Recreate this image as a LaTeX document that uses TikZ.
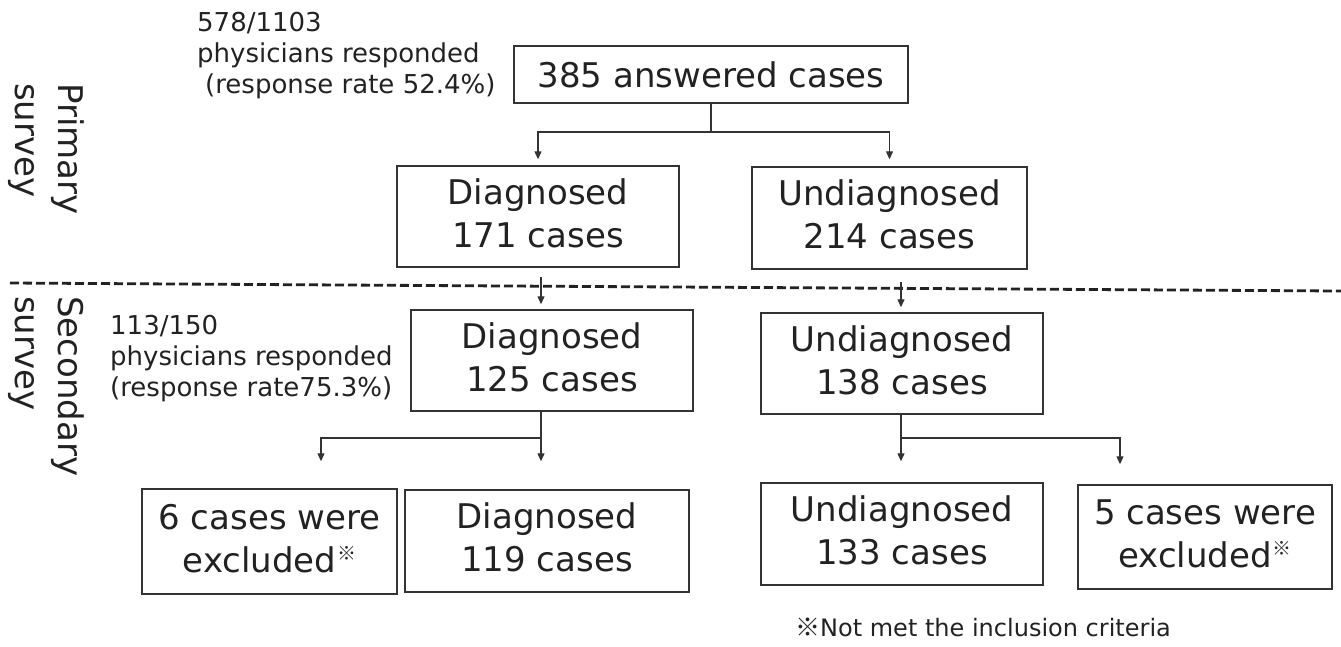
\documentclass[tikz,border=0pt]{standalone}
\usepackage{fontspec}
\setmainfont{DejaVu Sans}
\newfontfamily\cjk{Noto Sans CJK JP}
\usetikzlibrary{arrows.meta,calc}
\definecolor{ink}{HTML}{222222}
\definecolor{edge}{HTML}{333333}
\newcommand{\supmark}{\kern1pt\raisebox{12pt}{\fontsize{19}{19}\selectfont\cjk ※}}
\begin{document}
\begin{tikzpicture}[x=1pt,y=-1pt,
  box/.style={draw=edge, line width=1.4pt, text=ink, align=center, inner sep=0pt,
    font=\fontsize{34}{43}\selectfont},
  twoline/.style={box, execute at end node={\rule[-7pt]{0pt}{7pt}}},
  note/.style={anchor=base west, text=ink, inner sep=0pt, font=\fontsize{26}{31}\selectfont},
  side/.style={anchor=base west, rotate=-90, text=ink, inner sep=0pt, font=\fontsize{34}{43}\selectfont},
  link/.style={draw=edge, line width=1.2pt},
  arr/.style={link, -{Triangle[length=8pt,width=7pt]}},
  divider/.style={draw=ink, line width=2.8pt, dash pattern=on 9pt off 4pt},
]
\useasboundingbox (0,0) rectangle (1341,646);

% section divider
\coordinate (dl) at (10,283);
\coordinate (dr) at (1341,291);
\draw[divider] (dl) -- (dr);

% side labels
\node[side] (prim1) at (58,83) {Primary};
\node[side] (prim2) at (15,83) {survey};
\node[side] (sec1) at (58,296) {Secondary};
\node[side] (sec2) at (15,296) {survey};

% notes
\node[note] (n1a) at (197,31) {578/1103};
\node[note] (n1b) at (197,62) {physicians responded};
\node[note] (n1c) at (205,93) {(response rate 52.4\%)};
\node[note] (n2a) at (110,334) {113/150};
\node[note] (n2b) at (110,365) {physicians responded};
\node[note] (n2c) at (110,396) {(response rate75.3\%)};

% boxes
\node[box, minimum width=394pt, minimum height=57pt] (top) at (711,74.5) {385 answered cases};
\node[twoline, minimum width=282pt, minimum height=101pt] (D171) at (538,216.5) {Diagnosed\\171 cases};
\node[twoline, minimum width=275pt, minimum height=102pt] (U214) at (889.5,218) {Undiagnosed\\214 cases};
\node[twoline, minimum width=282pt, minimum height=101pt] (D125) at (552,360.5) {Diagnosed\\125 cases};
\node[twoline, minimum width=282pt, minimum height=101pt] (U138) at (902,363.5) {Undiagnosed\\138 cases};
\node[twoline, minimum width=255pt, minimum height=105pt] (Ex6) at (269.5,541.5) {6 cases were\\excluded\supmark};
\node[twoline, minimum width=284pt, minimum height=102pt] (D119) at (547,541) {Diagnosed\\119 cases};
\node[twoline, minimum width=282pt, minimum height=102pt] (U133) at (902,534) {Undiagnosed\\133 cases};
\node[twoline, minimum width=254pt, minimum height=104pt] (Ex5) at (1205,537) {5 cases were\\excluded\supmark};

% footnote
\node[anchor=base west, text=ink, inner sep=0pt, font=\fontsize{24}{28}\selectfont] (fn) at (795,636)
  {{\cjk\fontsize{25}{25}\selectfont ※}Not met the inclusion criteria};

% connectors, primary survey
\coordinate (j1) at (711,132);
\draw[link] (top.south) -- (j1);
\draw[arr, shorten >=6pt] (j1) -| (D171.north);
\draw[arr, shorten >=7pt] (j1) -| (U214.north);

% crossing to secondary survey
\coordinate (a1) at (541,277);
\draw[arr, shorten >=5pt] (a1) -- (a1 |- D125.north);
\coordinate (a2) at (901,282);
\draw[arr, shorten >=5pt] (a2) -- (a2 |- U138.north);

% diagnosed split
\coordinate (s1) at (541,0 |- D125.south);
\coordinate (h1) at (541,438);
\draw[arr, shorten >=28pt] (s1) -- (s1 |- D119.north);
\draw[arr, shorten >=27pt] (h1) -| (321,0 |- Ex6.north);

% undiagnosed split
\coordinate (s2) at (901,0 |- U138.south);
\coordinate (h2) at (901,438);
\draw[arr, shorten >=21pt] (s2) -- (s2 |- U133.north);
\draw[arr, shorten >=20pt] (h2) -| (1120,0 |- Ex5.north);
\end{tikzpicture}
\end{document}
